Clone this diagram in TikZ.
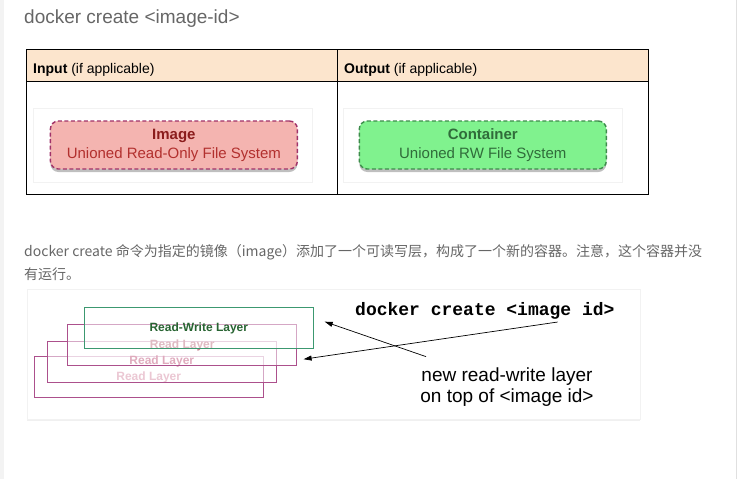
\documentclass[tikz,border=0pt]{standalone}
\usepackage{fontspec}
\setmainfont{Liberation Sans}
\newfontfamily\cjkfont{Noto Sans CJK SC}
\newfontfamily\cmdfont{Liberation Mono}
\usetikzlibrary{arrows.meta, positioning, calc, shadows}
\definecolor{textgray}{RGB}{102, 102, 102}
\definecolor{edgegray}{RGB}{243, 243, 243}
\definecolor{headfill}{RGB}{252, 229, 205}
\definecolor{imgfill}{RGB}{244, 180, 176}
\definecolor{imgedge}{RGB}{160, 50, 105}
\definecolor{imgdark}{RGB}{139, 28, 28}
\definecolor{imgtext}{RGB}{178, 48, 46}
\definecolor{ctrfill}{RGB}{128, 242, 142}
\definecolor{ctredge}{RGB}{62, 140, 76}
\definecolor{ctrtext}{RGB}{48, 108, 58}
\definecolor{layerpink}{RGB}{172, 80, 140}
\definecolor{layergreen}{RGB}{60, 152, 112}
\definecolor{rwtext}{RGB}{40, 100, 50}
\definecolor{readone}{RGB}{192, 118, 134}
\definecolor{readtwo}{RGB}{192, 88, 124}
\definecolor{readthree}{RGB}{216, 144, 168}

\begin{document}
\begin{tikzpicture}[x=1pt, y=-1pt,
    fsbox/.style={rounded corners=8pt, line width=1.4pt, dash pattern=on 4pt off 2.5pt,
      minimum width=247pt, minimum height=48pt, align=center,
      font=\fontsize{15}{19}\selectfont,
      drop shadow={shadow xshift=0pt, shadow yshift=-3pt, opacity=0.5}},
    layerbox/.style={draw=layerpink, line width=0.8pt, fill=white, fill opacity=0.5, text opacity=1,
      minimum width=229pt, minimum height=41pt, font=\bfseries\fontsize{12}{14}\selectfont},
    panel/.style={fill=white, draw=black!5,
      drop shadow={shadow xshift=0pt, shadow yshift=-1.5pt, opacity=0.12}},
    pointer/.style={-{Triangle[length=8pt, width=5pt]}, line width=0.7pt}]
  \useasboundingbox (0,0) rectangle (738,479);
  \fill[edgegray] (0,0) rectangle (4,479);
  \draw[black!12] (736,0) -- (736,479);

  \node[anchor=base west, inner sep=0pt, text=textgray, font=\fontsize{19}{23}\selectfont] (title) at (24,23) {docker create <image-id>};

  \fill[headfill] (26,49) rectangle (648,81);
  \draw[line width=0.9pt] (26,49) rectangle (648,194);
  \draw[line width=0.9pt] (26,81) -- (648,81);
  \draw[line width=0.9pt] (337,49) -- (337,194);
  \node[anchor=base west, inner sep=0pt, font=\fontsize{14}{17}\selectfont] (inhead) at (33,73) {\textbf{Input} (if applicable)};
  \node[anchor=base west, inner sep=0pt, font=\fontsize{14}{17}\selectfont] (outhead) at (344,73) {\textbf{Output} (if applicable)};

  \path[panel] (33.3,108.3) rectangle (312.3,181.7);
  \path[panel] (343.3,108.3) rectangle (621.7,181.7);
  \node[fsbox, draw=imgedge, fill=imgfill, text=imgtext] (img) at (173.9,145) {\textcolor{imgdark}{\textbf{Image}}\\Unioned Read-Only File System};
  \node[fsbox, draw=ctredge, fill=ctrfill, text=ctrtext] (ctr) at (482.8,145) {\textbf{Container}\\Unioned RW File System};

  \node[anchor=north west, inner sep=0pt, align=left, text=textgray, font=\cjkfont\fontsize{14}{23}\selectfont] (para) at (24,244.5) {docker create 命令为指定的镜像（image）添加了一个可读写层，构成了一个新的容器。注意，这个容器并没\\有运行。};

  \path[panel] (26.7,289) rectangle (640,419.3);
  \node[layerbox, text=readthree] (rl3) at (148.7,377) {Read Layer};
  \node[layerbox, text=readtwo] (rl2) at (161.8,361.7) {Read Layer};
  \node[layerbox, text=readone] (rl1) at (182.2,345.2) {Read Layer};
  \node[layerbox, draw=layergreen, text=rwtext] (rw) at (198.8,328.2) {Read-Write Layer};

  \node[anchor=base west, inner sep=0pt, font=\cmdfont\bfseries\fontsize{18}{20}\selectfont] (cmd) at (355,315) {docker create <image id>};
  \node[align=center, font=\fontsize{19}{21}\selectfont] (note) at (507,387) {new read-write layer\\on top of <image id>};

  \draw[pointer] ([xshift=-57pt, yshift=-3pt]cmd.south east) -- ([xshift=6.5pt, yshift=-14pt]rl1.east);
  \draw[pointer] ([xshift=-81pt, yshift=7.5pt]note.north) -- ([xshift=11pt, yshift=6.5pt]rw.east);
\end{tikzpicture}
\end{document}
